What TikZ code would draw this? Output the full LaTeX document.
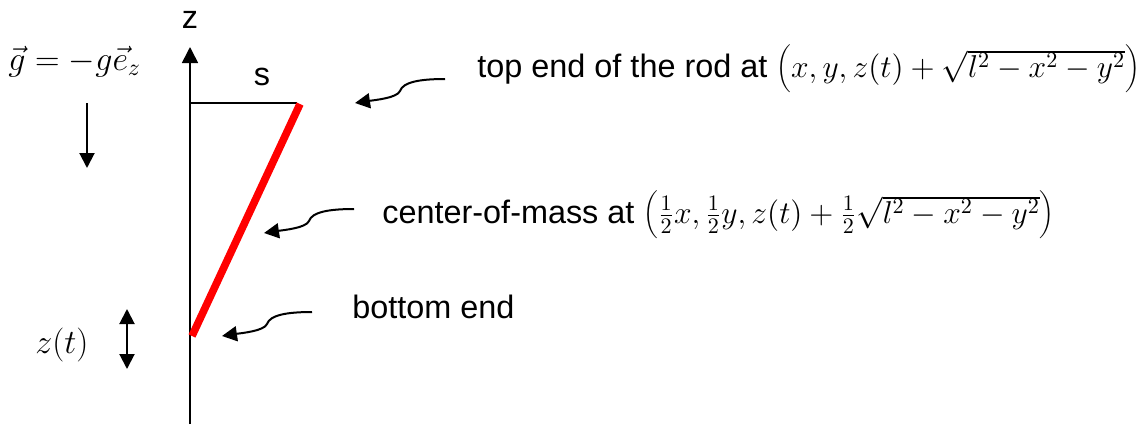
\RequirePackage{fix-cm}
\documentclass[tikz,border=0pt]{standalone}
\usepackage{fontspec}
\setmainfont{Liberation Sans}
\usepackage{tikz}
\usetikzlibrary{
  arrows.meta,
  calc,
}
\tikzstyle{axis} = [
  -{Triangle[length=8pt,width=8pt]},
  line width=0.8pt,
]
\tikzstyle{pointer} = [
  -{Triangle[length=7.5pt,width=7.5pt]},
  line width=1pt,
]
\tikzstyle{rod} = [line width=3.8pt, red]
\tikzstyle{txt} = [font=\fontsize{16.2}{19}\selectfont, inner sep=0pt]
\newcommand{\rodmath}[1]{{\fontsize{15.8}{19}\selectfont$#1$}}
\newcommand{\tagmath}[1]{{\fontsize{17}{20}\selectfont$#1$}}

\begin{document}
\begin{tikzpicture}[x=0.5pt, y=-0.5pt]
  \useasboundingbox (0,0) rectangle (1146,424);
  \coordinate (axisbot) at (190,424);
  \coordinate (axistop) at (190,47);
  \coordinate (sleft) at (190,103);
  \coordinate (sright) at (297,103);
  \coordinate (rodbot) at (192,336);
  \coordinate (rodtop) at (300,104);
  \coordinate (gtail) at (87,103);
  \coordinate (ghead) at (87,168);
  \coordinate (zup) at (127,309);
  \coordinate (zdown) at (127,369);
  \coordinate (topsrc) at (445,79);
  \coordinate (comsrc) at (354,209);
  \coordinate (botsrc) at (312,312);

  \node [txt, anchor=base] (zlabel) at (190,28) {z};
  \node [txt, anchor=base] (slabel) at (262,85) {s};
  \node [txt, anchor=base west] (gravity) at (8,70) {\tagmath{\vec g = -g\vec e_z}};
  \node [txt, anchor=base west] (ztlabel) at (35,353) {\tagmath{z(t)}};
  \node [txt, anchor=base west] (toptext) at (477,77)
    {top end of the rod at \rodmath{\left(\rule[-6pt]{0pt}{20pt}x,y,z(t)+\sqrt{l^2-x^2-y^2}\right)}};
  \node [txt, anchor=base west] (comtext) at (382,223)
    {center-of-mass at \rodmath{\left(\rule[-9pt]{0pt}{26pt}\frac{1}{2}x,\frac{1}{2}y,z(t)+\frac{1}{2}\sqrt{l^2-x^2-y^2}\right)}};
  \node [txt, anchor=base west] (bottext) at (352,318) {bottom end};

  \draw [axis] (axisbot) -- (axistop);
  \draw [line width=0.8pt] (sleft) -- (sright);
  \draw [rod] (rodbot) -- (rodtop);
  \draw [pointer] (gtail) -- (ghead);
  \draw [pointer, {Triangle[length=7.5pt,width=7.5pt]}-{Triangle[length=7.5pt,width=7.5pt]}] (zup) -- (zdown);

  % curly pointers to the rod
  \foreach \src in {topsrc,comsrc,botsrc}
    \draw [pointer] (\src) .. controls ($(\src)+(-25,0)$) and ($(\src)+(-42,3)$) .. ($(\src)+(-45,12)$)
      .. controls ($(\src)+(-48,19)$) and ($(\src)+(-70,21)$) .. ($(\src)+(-90,24)$);
\end{tikzpicture}
\end{document}
